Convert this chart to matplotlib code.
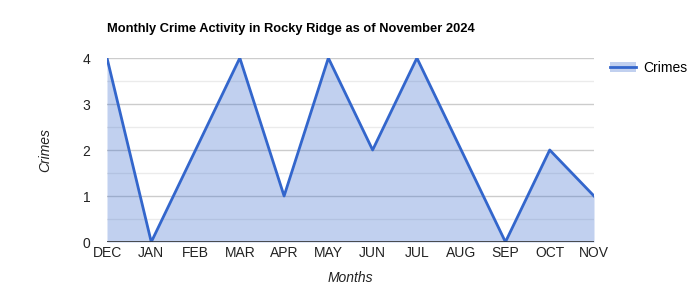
import matplotlib.pyplot as plt
from matplotlib.patches import Patch
from matplotlib.lines import Line2D

months = ['DEC', 'JAN', 'FEB', 'MAR', 'APR', 'MAY', 'JUN', 'JUL', 'AUG', 'SEP', 'OCT', 'NOV']
crimes = [4, 0, 2, 4, 1, 4, 2, 4, 2, 0, 2, 1]

plt.rcParams['font.family'] = ['Liberation Sans', 'DejaVu Sans']

fig = plt.figure(figsize=(7, 3), dpi=100)
ax = fig.add_axes([107/700, 58/300, 487/700, 184/300])

x = list(range(len(months)))
ax.fill_between(x, crimes, 0, color='#3366cc', alpha=0.3, linewidth=0, zorder=2)
ax.plot(x, crimes, color='#3366cc', linewidth=2, zorder=3)

ax.set_xlim(0, len(months) - 1)
ax.set_ylim(0, 4)
ax.set_xticks(x)
ax.set_xticklabels(months)
ax.set_yticks([0, 1, 2, 3, 4])
ax.set_yticks([0.5, 1.5, 2.5, 3.5], minor=True)
ax.grid(True, which='major', axis='y', color='#cccccc', linewidth=1, zorder=1)
ax.grid(True, which='minor', axis='y', color='#ebebeb', linewidth=1, zorder=1)
ax.axhline(0, color='#333333', linewidth=1.2, zorder=4)
ax.tick_params(axis='both', which='both', length=0, labelsize=10, labelcolor='#222222')
ax.tick_params(axis='x', pad=3)
ax.tick_params(axis='y', pad=12)
for s in ax.spines.values():
    s.set_visible(False)

ax.set_xlabel('Months', fontsize=10, style='italic', color='#222222', labelpad=8)
ax.set_ylabel('Crimes', fontsize=10, style='italic', color='#222222', labelpad=22)

fig.text(107/700, 1 - 29/300, 'Monthly Crime Activity in Rocky Ridge as of November 2024',
         fontsize=9.3, fontweight='bold', color='#000000', va='center', ha='left')

handle = (Patch(facecolor='#3366cc', alpha=0.3, linewidth=0), Line2D([], [], color='#3366cc', linewidth=2))
fig.legend([handle], ['Crimes'], loc='upper left', bbox_to_anchor=(604/700, 1 - 55/300),
           frameon=False, fontsize=10, handlelength=1.9, borderaxespad=0, handletextpad=0.5)

fig.savefig('out.png', dpi=100)
